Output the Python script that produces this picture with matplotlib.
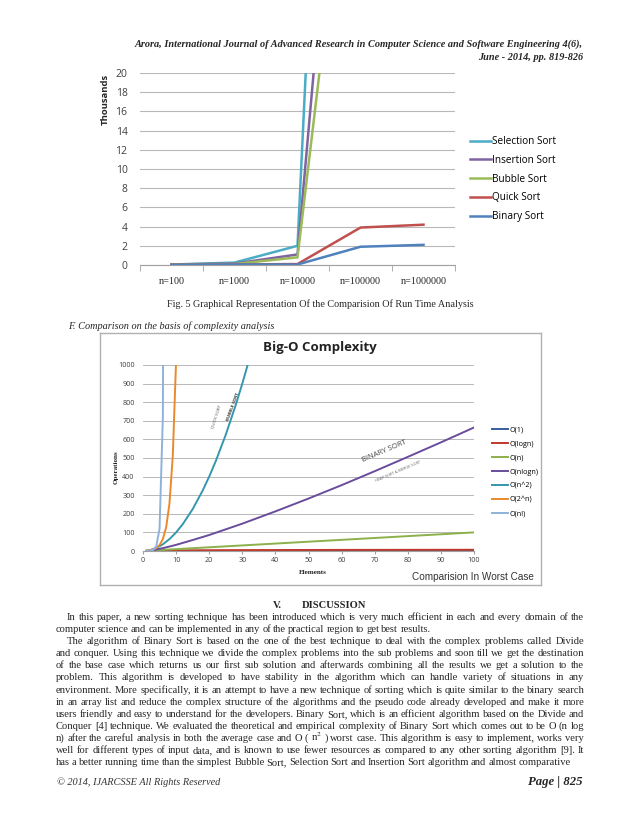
import numpy as np
import matplotlib
matplotlib.use('Agg')
import matplotlib.pyplot as plt

plt.rcParams['mathtext.fontset'] = 'stix'

W, H = 638, 826
SERIF = 'Liberation Serif'
SANS = 'Open Sans'
INK = '#262626'

# ---- chart 1: run time (thousands) ----
cats = ['n=100', 'n=1000', 'n=10000', 'n=100000', 'n=1000000']
run_series = ['Selection Sort', 'Insertion Sort', 'Bubble Sort', 'Quick Sort', 'Binary Sort']
run_colors = ['#4bacc6', '#8064a2', '#9bbb59', '#c0504d', '#4f81bd']
selection = [0.05, 0.25, 2.0, 140.0, 1400.0]
insertion = [0.05, 0.15, 1.1, 75.0, 750.0]
bubble = [0.05, 0.10, 0.8, 56.0, 560.0]
quick = [0.02, 0.05, 0.10, 3.9, 4.2]
binary = [0.02, 0.05, 0.05, 1.9, 2.1]
run_values = [selection, insertion, bubble, quick, binary]

# ---- chart 2: big-O curves ----
o1_x = [1, 100]
o1_y = [1, 1]
ologn_x = [1, 10, 20, 30, 40, 50, 60, 70, 80, 90, 100]
ologn_y = [0, 3.3, 4.3, 4.9, 5.3, 5.6, 5.9, 6.1, 6.3, 6.5, 6.6]
on_x = [1, 100]
on_y = [1, 100]
onlogn_x = [1, 2, 4, 6, 8, 10, 15, 20, 30, 40, 50, 60, 70, 80, 90, 100]
onlogn_y = [0, 2, 8, 15.5, 24, 33, 59, 86, 147, 213, 282, 354, 429, 506, 584, 664]
on2_x = [1, 2, 4, 6, 8, 10, 12, 15, 18, 20, 22, 25, 28, 30, 32]
on2_y = [1, 4, 16, 36, 64, 100, 144, 225, 324, 400, 484, 625, 784, 900, 1024]
o2n_x = [1, 2, 3, 4, 5, 6, 7, 8, 9, 10]
o2n_y = [2, 4, 8, 16, 32, 64, 128, 256, 512, 1024]
ofact_x = [1, 2, 3, 4, 5, 6, 7]
ofact_y = [1, 2, 6, 24, 120, 720, 5040]
bigo_labels = ['O(1)', 'O(logn)', 'O(n)', 'O(nlogn)', 'O(n^2)', 'O(2^n)', 'O(n!)']
bigo_colors = ['#35609e', '#c0392b', '#8cb04a', '#6a4c9c', '#3597ad', '#e98a2c', '#8fb2dc']

header1 = 'Arora, International Journal of Advanced Research in Computer Science and Software Engineering 4(6),'
header2 = 'June - 2014, pp. 819-826'

para1 = [
    'In this paper, a new sorting technique has been introduced which is very much efficient in each and every domain of the',
    'computer science and can be implemented in any of the practical region to get best results.',
]
para2 = [
    'The algorithm of Binary Sort is based on the one of the best technique to deal with the complex problems called Divide',
    'and conquer. Using this technique we divide the complex problems into the sub problems and soon till we get the destination',
    'of the base case which returns us our first sub solution and afterwards combining all the results we get a solution to the',
    'problem. This algorithm is developed to have stability in the algorithm which can handle variety of situations in any',
    'environment. More specifically, it is an attempt to have a new technique of sorting which is quite similar to the binary search',
    'in an array list and reduce the complex structure of the algorithms and the pseudo code already developed and make it more',
    'users friendly and easy to understand for the developers. Binary Sort, which is an efficient algorithm based on the Divide and',
    'Conquer [4] technique. We evaluated the theoretical and empirical complexity of Binary Sort which comes out to be O (n log',
    'n) after the careful analysis in both the average case and O ( n$^2$ ) worst case. This algorithm is easy to implement, works very',
    'well for different types of input data, and is known to use fewer resources as compared to any other sorting algorithm [9]. It',
    'has a better running time than the simplest Bubble Sort, Selection Sort and Insertion Sort algorithm and almost comparative',
]

fig = plt.figure(figsize=(W / 100, H / 100), dpi=100)
fig.patch.set_facecolor('white')


def fx(x):
    return x / W


def fy(y):
    return 1 - y / H


# header
fig.text(fx(583), fy(44), header1, ha='right', va='center', family=SERIF,
         style='italic', weight='bold', fontsize=7.4, color=INK)
fig.text(fx(583), fy(57), header2, ha='right', va='center', family=SERIF,
         style='italic', weight='bold', fontsize=7.4, color=INK)

# ---- chart 1 ----
ax1 = fig.add_axes([fx(140), fy(265), (455 - 140) / W, (265 - 73) / H])
xpos = np.arange(len(cats))
for name, vals, c in zip(run_series, run_values, run_colors):
    ax1.plot(xpos, vals, color=c, lw=1.8, label=name, solid_joinstyle='miter')
ax1.set_xlim(-0.5, len(cats) - 0.5)
ax1.set_ylim(0, 20)
ax1.set_yticks(np.arange(0, 21, 2))
ax1.yaxis.grid(True, color='#b8b8b8', lw=0.8)
ax1.set_axisbelow(True)
for s in ['top', 'right', 'left']:
    ax1.spines[s].set_visible(False)
ax1.spines['bottom'].set_color('#a0a0a0')
ax1.set_xticks(xpos)
ax1.set_xticklabels(cats, family=SERIF, fontsize=7.3, color=INK)
ax1.set_xticks(np.arange(-0.5, len(cats), 1.0), minor=True)
ax1.tick_params(axis='x', which='major', length=0, pad=9)
ax1.tick_params(axis='x', which='minor', length=4, color='#a0a0a0')
ax1.tick_params(axis='y', length=0, pad=9, labelsize=7.5, labelcolor='#404040')
for t in ax1.get_yticklabels():
    t.set_family(SANS)
fig.text(fx(105), fy(99), 'Thousands', rotation=90, ha='center', va='center',
         family=SANS, weight='bold', fontsize=6.8, color=INK)
ax1.legend(loc='upper left', bbox_to_anchor=(fx(466), fy(132)), bbox_transform=fig.transFigure,
           frameon=False, handlelength=2.1, handletextpad=0.15,
           labelspacing=0.78, borderaxespad=0, prop={'family': SANS, 'size': 7.2})

fig.text(fx(320), fy(304), 'Fig. 5 Graphical Representation Of the Comparision Of Run Time Analysis',
         ha='center', va='center', family=SERIF, fontsize=7.3, color=INK)
fig.text(fx(68), fy(326), 'F. Comparison on the basis of complexity analysis',
         ha='left', va='center', family=SERIF, style='italic', fontsize=7.4, color=INK)

# ---- chart 2 (boxed picture) ----
box = fig.add_axes([fx(100), fy(585), (541 - 100) / W, (585 - 333) / H])
box.set_xticks([])
box.set_yticks([])
for s in box.spines.values():
    s.set_color('#b0b0b0')
    s.set_linewidth(1.0)
box.set_zorder(0)

ax2 = fig.add_axes([fx(143), fy(551), (474 - 143) / W, (551 - 365) / H])
ax2.set_zorder(1)
ax2.patch.set_alpha(0)
curves = [(o1_x, o1_y), (ologn_x, ologn_y), (on_x, on_y), (onlogn_x, onlogn_y),
          (on2_x, on2_y), (o2n_x, o2n_y), (ofact_x, ofact_y)]
for (xs, ys), lab, c in zip(curves, bigo_labels, bigo_colors):
    ax2.plot(xs, ys, color=c, lw=1.4, label=lab)
ax2.set_xlim(0, 100)
ax2.set_ylim(0, 1000)
ax2.set_xticks(np.arange(0, 101, 10))
ax2.set_yticks(np.arange(0, 1001, 100))
ax2.yaxis.grid(True, color='#b8b8b8', lw=0.7)
ax2.set_axisbelow(True)
for s in ['top', 'right', 'left']:
    ax2.spines[s].set_visible(False)
ax2.spines['bottom'].set_color('#a0a0a0')
ax2.tick_params(axis='x', length=2, color='#a0a0a0', labelsize=5.2, labelcolor='#404040', pad=2)
ax2.tick_params(axis='y', length=0, labelsize=5.2, labelcolor='#404040', pad=6)
for t in ax2.get_xticklabels() + ax2.get_yticklabels():
    t.set_family(SANS)

ax2.text(22.3, 720, 'QUICK SORT', rotation=72, ha='center', va='center',
         family=SANS, fontsize=3.2, color='#555555')
ax2.text(27.2, 775, 'BUBBLE SORT', rotation=70, ha='center', va='center',
         family=SANS, fontsize=3.2, weight='bold', color='#333333')
ax2.text(73, 535, 'BINARY SORT', rotation=23, ha='center', va='center',
         family=SANS, fontsize=5.5, color='#444444')
ax2.text(77, 425, 'HEAP SORT & MERGE SORT', rotation=23, ha='center', va='center',
         family=SANS, fontsize=2.8, color='#666666')

fig.text(fx(320), fy(348), 'Big-O Complexity', ha='center', va='center',
         family=SANS, weight='bold', fontsize=9.5, color='#222222')
fig.text(fx(116), fy(467), 'Operations', rotation=90, ha='center', va='center',
         family=SERIF, weight='bold', fontsize=5, color='#222222')
fig.text(fx(313), fy(573), 'Elements', ha='center', va='center',
         family=SERIF, weight='bold', fontsize=5, color='#222222')
fig.text(fx(473), fy(577), 'Comparision In Worst Case', ha='center', va='center',
         family='Liberation Sans', fontsize=7.2, color='#333333')
ax2.legend(loc='upper left', bbox_to_anchor=(fx(489), fy(424)), bbox_transform=fig.transFigure,
           frameon=False, handlelength=2.2, handletextpad=0.2, labelspacing=0.95,
           borderaxespad=0, prop={'family': SANS, 'size': 5.2})

# ---- discussion text ----
fig.text(fx(273), fy(605), 'V.', ha='left', va='center', family=SERIF,
         weight='bold', fontsize=7.6, color=INK)
fig.text(fx(302), fy(605), 'DISCUSSION', ha='left', va='center', family=SERIF,
         weight='bold', fontsize=7.6, color=INK)

renderer = fig.canvas.get_renderer()
LEFT, RIGHT, INDENT = 56, 584, 67


def put_line(line, y, x0, justify):
    words = line.split(' ')
    arts = [fig.text(0, fy(y), w, ha='left', va='baseline', family=SERIF,
                     fontsize=7.6, color=INK) for w in words]
    widths = [a.get_window_extent(renderer).width for a in arts]
    if justify and len(words) > 1:
        gap = (RIGHT - x0 - sum(widths)) / (len(words) - 1)
    else:
        gap = 2.1
    x = x0
    for a, w in zip(arts, widths):
        a.set_x(fx(x))
        x += w + gap


for k, line in enumerate(para1 + para2):
    base = round(620 + 12.1 * k)
    first = k == 0 or k == len(para1)
    last = k == len(para1) - 1 or k == len(para1) + len(para2) - 1
    put_line(line, base, INDENT if first else LEFT, not last)

fig.text(fx(57), fy(782), '\u00a9 2014, IJARCSSE All Rights Reserved', ha='left', va='center',
         family=SERIF, style='italic', fontsize=7.4, color='#333333')
fig.text(fx(583), fy(782), 'Page | 825', ha='right', va='center', family=SERIF,
         style='italic', weight='bold', fontsize=9.2, color=INK)

fig.savefig('out.png', dpi=100)
